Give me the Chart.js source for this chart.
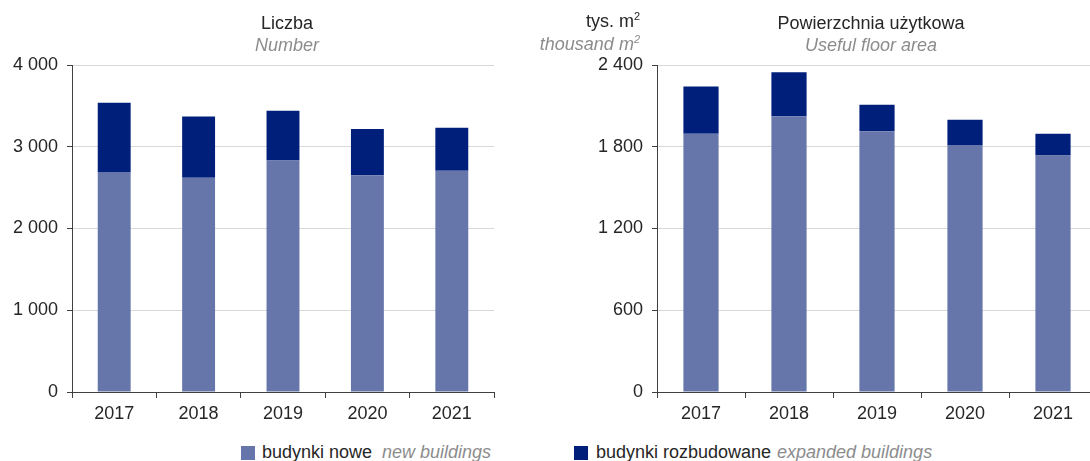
<!DOCTYPE html>
<html>
<head>
<meta charset="utf-8">
<script src="https://cdn.jsdelivr.net/npm/chart.js@4/dist/chart.umd.min.js"></script>
<style>
  html, body { margin: 0; padding: 0; background: #fff; }
  body { width: 1090px; height: 461px; overflow: hidden; position: relative;
         font-family: "Liberation Sans", Arial, sans-serif; font-size: 18px; color: #262626; }
  canvas { position: absolute; top: 0; }
  .t { position: absolute; white-space: nowrap; line-height: 18px; }
  .it { font-style: italic; color: #8c8c8c; }
  .sq { position: absolute; width: 14px; height: 14px; }
</style>
</head>
<body>
<canvas id="countChart" width="510" height="420" style="left:0"></canvas>
<canvas id="areaChart" width="540" height="420" style="left:560px"></canvas>

<div class="t" style="left:187px;width:200px;text-align:center;top:14px">Liczba</div>
<div class="t it" style="left:187px;width:200px;text-align:center;top:36px">Number</div>

<div class="t" style="left:440px;width:200px;text-align:right;top:12px">tys. m<sup style="font-size:11px;line-height:0">2</sup></div>
<div class="t it" style="left:440px;width:200px;text-align:right;top:35px">thousand m<sup style="font-size:11px;line-height:0">2</sup></div>

<div class="t" style="left:721px;width:300px;text-align:center;top:14px">Powierzchnia użytkowa</div>
<div class="t it" style="left:721px;width:300px;text-align:center;top:36px">Useful floor area</div>

<div class="sq" style="left:241px;top:446px;background:#6676aa"></div>
<div class="t" style="left:262px;top:443px">budynki nowe</div>
<div class="t it" style="left:382px;top:443px">new buildings</div>
<div class="sq" style="left:574px;top:446px;background:#001f7a"></div>
<div class="t" style="left:596px;top:443px">budynki rozbudowane</div>
<div class="t it" style="left:777px;top:443px">expanded buildings</div>

<script>
const years = ["2017", "2018", "2019", "2020", "2021"];

// Liczba budynków
const countNew = [2691, 2621, 2833, 2650, 2707];
const countExpanded = [848, 750, 608, 567, 526];

// Powierzchnia użytkowa, tys. m2
const areaNew = [1896, 2023, 1913, 1812, 1736];
const areaExpanded = [347, 323, 196, 187, 160];

const colorNew = "#6676aa";
const colorExpanded = "#001f7a";
const fontFamily = "'Liberation Sans', Arial, sans-serif";

Chart.defaults.font.family = fontFamily;
Chart.defaults.font.size = 18;
Chart.defaults.color = "#262626";

const fmt = (v) => String(v).replace(/\B(?=(\d{3})+(?!\d))/g, " ");

function makeChart(id, newData, expData, max, step, axisWidth, catPct, padRight) {
  const ctx = document.getElementById(id).getContext("2d");
  return new Chart(ctx, {
    type: "bar",
    data: {
      labels: years,
      datasets: [
        { label: "budynki nowe", data: newData, backgroundColor: colorNew },
        { label: "budynki rozbudowane", data: expData, backgroundColor: colorExpanded },
      ],
    },
    options: {
      responsive: false,
      animation: false,
      devicePixelRatio: 1,
      layout: { padding: { top: 65, right: padRight, bottom: 0, left: 0 } },
      plugins: { legend: { display: false }, tooltip: { enabled: false } },
      datasets: { bar: { barPercentage: 1, categoryPercentage: catPct } },
      scales: {
        x: {
          stacked: true,
          grid: { offset: true, drawOnChartArea: false, tickLength: 6, tickColor: "#404040" },
          border: { color: "#404040" },
          ticks: { padding: 5 },
          afterFit: (scale) => { scale.height = 28; },
        },
        y: {
          stacked: true,
          min: 0,
          max: max,
          ticks: { stepSize: step, padding: 9, callback: (v) => fmt(v) },
          grid: { color: "#d9d9d9", tickLength: 5, tickColor: "#404040" },
          border: { color: "#404040" },
          afterFit: (scale) => { scale.width = axisWidth; },
        },
      },
    },
  });
}

makeChart("countChart", countNew, countExpanded, 4000, 1000, 72, 0.39, 16);
makeChart("areaChart", areaNew, areaExpanded, 2400, 600, 97, 0.4, 3);
</script>
</body>
</html>
